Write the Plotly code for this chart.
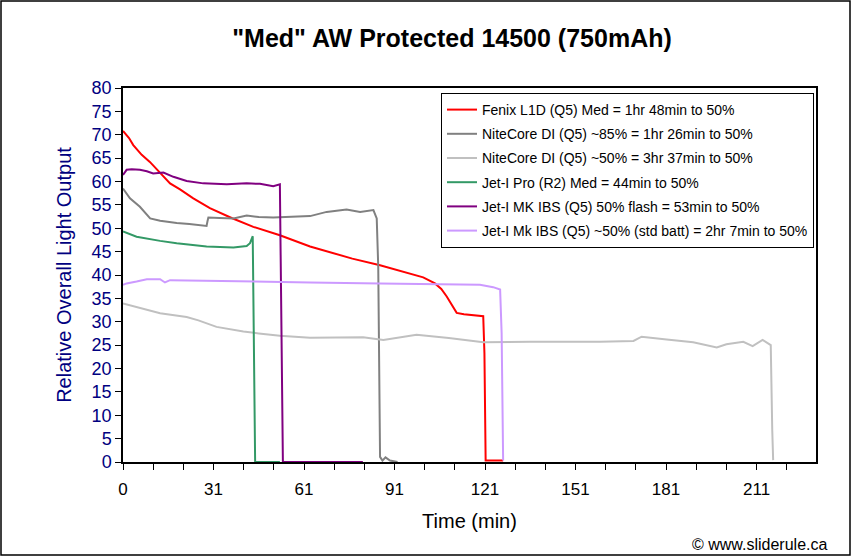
import plotly.graph_objects as go

# ---- data ----
fenix_t = [0, 2, 3.4, 6.2, 8.9, 12.3, 15.6, 18.9, 23.3, 28.8, 36, 43.2, 52, 62, 68.6, 76, 85.2, 92, 99.5, 103.4, 105.5, 107.3, 109, 110.6, 113, 119.4, 119.8, 120.2, 126]
fenix_v = [70.8, 69.3, 67.8, 65.7, 64.2, 61.8, 59.6, 58.3, 56.4, 54.3, 52.2, 50.3, 48.5, 46.1, 44.8, 43.5, 42.1, 40.9, 39.5, 38.2, 37.0, 35.4, 33.5, 31.9, 31.6, 31.2, 23.3, 0.3, 0.3]

nc85_t = [0, 2.3, 5.6, 9, 12.3, 17.8, 22, 27.7, 28, 28.3, 32, 36.6, 41, 45, 49.8, 55, 62, 67.5, 70, 74.1, 78.6, 81, 83, 84.1, 84.6, 85.2, 86, 87, 88.5, 91]
nc85_v = [58.5, 56.4, 54.6, 52.1, 51.6, 51.1, 50.9, 50.5, 51.5, 52.3, 52.2, 52.1, 52.7, 52.4, 52.3, 52.4, 52.6, 53.5, 53.7, 54.0, 53.5, 53.8, 53.9, 52.1, 41.8, 1.1, 0.3, 1.0, 0.3, 0]

nc50_t = [0, 5, 12.3, 21.1, 25, 31, 39.9, 45, 52, 62, 79.6, 86.3, 92, 97.3, 108, 119.4, 135, 158, 169.2, 171.9, 180.2, 189, 196.8, 200, 205.6, 208.7, 212, 214.7, 215.2, 215.5]
nc50_v = [33.9, 33.0, 31.8, 31.0, 30.3, 28.9, 27.9, 27.5, 27.0, 26.6, 26.7, 26.1, 26.6, 27.2, 26.5, 25.6, 25.7, 25.7, 25.9, 26.8, 26.2, 25.6, 24.5, 25.2, 25.7, 24.8, 26.1, 25.0, 6.8, 0.4]

jetpro_t = [0, 4.5, 12.3, 17.8, 27.7, 36.6, 41, 42.1, 43, 43.2, 43.8, 52]
jetpro_v = [49.3, 48.2, 47.3, 46.8, 46.1, 45.9, 46.2, 46.8, 48.3, 36.0, 0, 0]

mkflash_t = [0, 1.2, 2.9, 5.6, 7.9, 10, 13.4, 16.7, 21.1, 26.6, 34.4, 41, 45.4, 49.8, 52, 52.3, 53, 79.5]
mkflash_v = [61.4, 62.5, 62.6, 62.5, 62.2, 61.7, 61.9, 61.0, 60.1, 59.6, 59.4, 59.6, 59.5, 59.0, 59.4, 45.0, 0, 0]

mkstd_t = [0, 1.2, 4.5, 7.9, 12.3, 13.9, 15.6, 28.8, 39.9, 52, 62, 85.2, 107.3, 118.3, 122.7, 125, 125.5, 126]
mkstd_v = [37.9, 38.2, 38.6, 39.1, 39.1, 38.4, 38.9, 38.8, 38.6, 38.6, 38.4, 38.2, 38.1, 37.9, 37.4, 36.9, 27.6, 0.3]

names = [
    "Fenix L1D (Q5) Med = 1hr 48min to 50%",
    "NiteCore DI (Q5) ~85% = 1hr 26min to 50%",
    "NiteCore DI (Q5) ~50% = 3hr 37min to 50%",
    "Jet-I Pro (R2) Med = 44min to 50%",
    "Jet-I MK IBS (Q5) 50% flash = 53min to 50%",
    "Jet-I Mk IBS (Q5) ~50% (std batt) = 2hr 7min to 50%",
]
colors = ["#FF0000", "#808080", "#C0C0C0", "#339966", "#800080", "#CC99FF"]

x_tickvals = list(range(0, 230, 10))
x_ticklabels = {0: "0", 30: "31", 60: "61", 90: "91", 120: "121", 150: "151", 180: "181", 210: "211"}

series = [(fenix_t, fenix_v), (nc85_t, nc85_v), (nc50_t, nc50_v),
          (jetpro_t, jetpro_v), (mkflash_t, mkflash_v), (mkstd_t, mkstd_v)]

FONT = "Arial, Liberation Sans, sans-serif"

fig = go.Figure()
for i, ((t, v), name, c) in enumerate(zip(series, names, colors)):
    fig.add_trace(go.Scatter(x=t, y=v, mode="lines", name=name,
                             legendgroup=f"g{i}",
                             line=dict(color=c, width=2)))

fig.update_layout(
    width=855, height=560,
    paper_bgcolor="white", plot_bgcolor="white",
    margin=dict(l=123, r=39, t=88, b=98),
    font=dict(family=FONT, color="black"),
    title=dict(text="<b>\"Med\" AW Protected 14500 (750mAh)</b>",
               font=dict(size=25, family=FONT, color="black"),
               x=452/855, xanchor="center", xref="container",
               y=1-38/560, yanchor="middle", yref="container"),
    showlegend=True,
    legend=dict(x=(441-123)/693, y=(462-93)/374, xanchor="left", yanchor="top",
                bordercolor="black", borderwidth=1, bgcolor="white",
                font=dict(size=14, family=FONT, color="black"),
                tracegroupgap=3, itemwidth=30),
    xaxis=dict(range=[0, 229.7], tickmode="array", tickvals=x_tickvals,
               ticktext=[x_ticklabels.get(v, "") for v in x_tickvals],
               ticks="outside", ticklen=6, tickcolor="black", tickwidth=1,
               showline=True, linecolor="black", linewidth=1.5, mirror=True,
               showgrid=False, zeroline=False, ticklabelstandoff=5,
               tickfont=dict(size=17, color="black"),
               title=dict(text="Time (min)", font=dict(size=20, color="black"), standoff=16)),
    yaxis=dict(range=[0, 80], tickmode="linear", tick0=0, dtick=5,
               ticks="outside", ticklen=6, tickcolor="black", tickwidth=1,
               showline=True, linecolor="black", linewidth=1.5, mirror=True,
               showgrid=False, zeroline=False,
               tickfont=dict(size=18, color="#000080"),
               title=dict(text="Relative Overall Light Output",
                          font=dict(size=20, color="#000080"), standoff=15)),
)

# outer chart frame
fig.add_shape(type="rect", xref="paper", yref="paper",
              x0=(1-123)/693, x1=(850-123)/693, y0=(462-555)/374, y1=(462-1)/374,
              line=dict(color="black", width=1.5), fillcolor="rgba(0,0,0,0)", layer="below")

fig.add_annotation(text="© www.sliderule.ca", xref="paper", yref="paper",
                   x=(829-123)/693, y=(462-544)/374, xanchor="right", yanchor="middle",
                   showarrow=False, font=dict(size=16, family=FONT, color="black"))

fig.write_html("out.html", config={"displayModeBar": False},
               post_script="document.body.style.margin='0';document.body.style.overflow='hidden';")
